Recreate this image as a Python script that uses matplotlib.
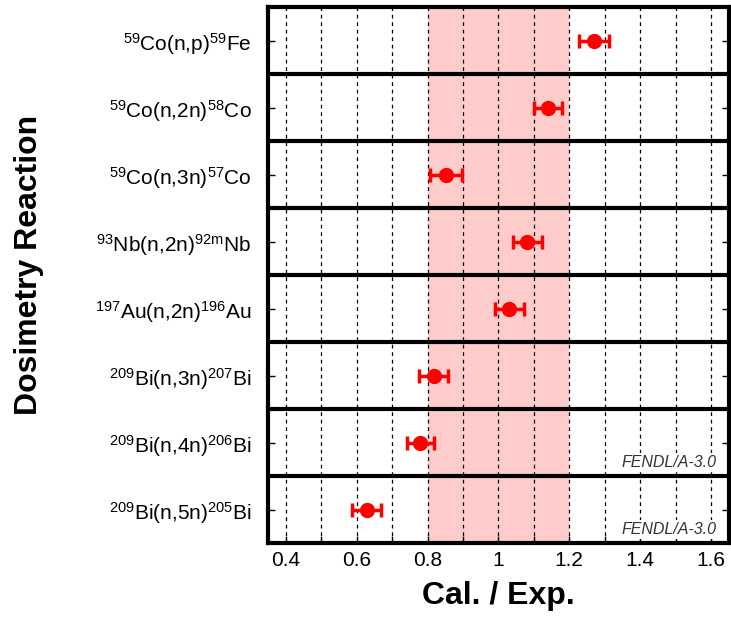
import matplotlib
matplotlib.use('Agg')
import matplotlib.pyplot as plt
import numpy as np

plt.rcParams['font.family'] = ['Liberation Sans', 'DejaVu Sans']
plt.rcParams['mathtext.default'] = 'regular'

# reactions, top to bottom
reactions = [r'$^{59}$Co(n,p)$^{59}$Fe',
             r'$^{59}$Co(n,2n)$^{58}$Co',
             r'$^{59}$Co(n,3n)$^{57}$Co',
             r'$^{93}$Nb(n,2n)$^{92m}$Nb',
             r'$^{197}$Au(n,2n)$^{196}$Au',
             r'$^{209}$Bi(n,3n)$^{207}$Bi',
             r'$^{209}$Bi(n,4n)$^{206}$Bi',
             r'$^{209}$Bi(n,5n)$^{205}$Bi']
ce = [1.27, 1.14, 0.853, 1.082, 1.031, 0.817, 0.780, 0.628]
err = [0.042, 0.040, 0.045, 0.042, 0.040, 0.042, 0.038, 0.042]
# reactions annotated with the FENDL/A-3.0 note
fendl_rows = [6, 7]
xticks = [0.4, 0.6, 0.8, 1.0, 1.2, 1.4, 1.6]
xticklabels = ['0.4', '0.6', '0.8', '1', '1.2', '1.4', '1.6']

fig = plt.figure(figsize=(7.31, 6.21), dpi=100)
ax = fig.add_axes([0.3666, 0.1256, 0.6304, 0.8631])

y = np.arange(len(reactions))

ax.axvspan(0.8, 1.2, color='#ffcccc', zorder=0, lw=0)
for gx in np.arange(0.4, 1.61, 0.1):
    ax.axvline(gx, color='black', ls=(0, (3, 3)), lw=0.9, zorder=1)
for b in y[:-1] + 0.5:
    ax.axhline(b, color='black', lw=3, zorder=2)

ax.errorbar(ce, y, xerr=err, fmt='o', color='red', ms=10, elinewidth=2.5,
            capsize=5, capthick=2.5, zorder=3)

for r in fendl_rows:
    ax.text(1.615, r + 0.41, 'FENDL/A-3.0', ha='right', va='bottom',
            fontsize=11.5, style='italic', color='#333333', zorder=4,
            bbox=dict(facecolor='white', edgecolor='none', pad=1.5))

ax.set_xlim(0.35, 1.65)
ax.set_ylim(len(reactions) - 0.5, -0.5)
ax.set_yticks(y)
ax.set_yticklabels(reactions, fontsize=15)
ax.set_xticks(xticks)
ax.set_xticklabels(xticklabels, fontsize=15)
ax.set_xticks(np.arange(0.4, 1.61, 0.1), minor=True)
ax.tick_params(axis='both', which='both', direction='in', right=True, length=5, width=1)
ax.tick_params(axis='y', pad=12)
ax.tick_params(axis='x', pad=6)
for s in ax.spines.values():
    s.set_linewidth(3)

ax.set_xlabel('Cal. / Exp.', fontsize=23, fontweight='bold', labelpad=8)
fig.text(0.04, 0.573, 'Dosimetry Reaction', rotation=90, ha='center', va='center',
         fontsize=23, fontweight='bold')

fig.savefig('out.png', dpi=100)
